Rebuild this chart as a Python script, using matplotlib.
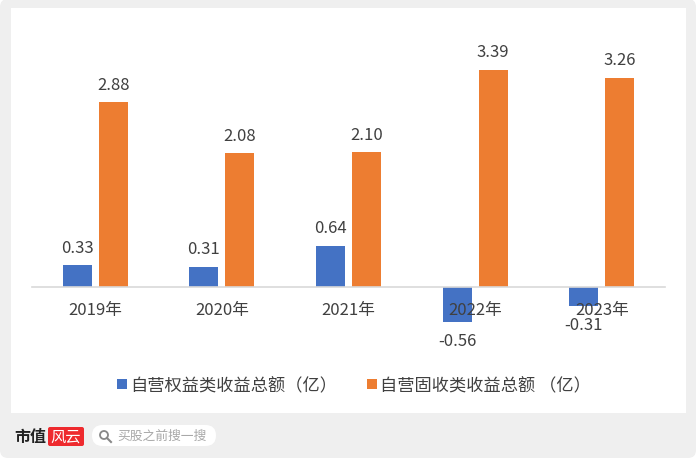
import matplotlib
matplotlib.use('Agg')
import matplotlib.pyplot as plt
import numpy as np
from matplotlib.patches import FancyBboxPatch, Rectangle, Circle

plt.rcParams['font.family'] = ['Noto Sans CJK SC', 'DejaVu Sans']

W, H = 696, 460

years = ['2019年', '2020年', '2021年', '2022年', '2023年']
equity = [0.33, 0.31, 0.64, -0.56, -0.31]
fixed = [2.88, 2.08, 2.10, 3.39, 3.26]
equity_name = '自营权益类收益总额（亿）'
fixed_name = '自营固收类收益总额 （亿）'

BLUE = '#4472c4'
ORANGE = '#ed7d31'
TEXT = '#404040'

fig = plt.figure(figsize=(W / 100, H / 100), dpi=100, facecolor='white')

# page background, white card and footer, in pixel coordinates
bg = fig.add_axes([0, 0, 1, 1], zorder=0)
bg.set_xlim(0, W)
bg.set_ylim(H, 0)
bg.axis('off')
bg.add_patch(FancyBboxPatch((0, 0), W, H - 1, boxstyle='round,pad=0,rounding_size=8',
                            fc='#efefef', ec='none'))
bg.add_patch(Rectangle((11, 9), 675, 405, fc='white', ec='none'))

# footer logo and search box
bg.text(14, 437, '市值', fontsize=11.5, fontweight='bold', color='#222222', va='center', ha='left')
bg.add_patch(FancyBboxPatch((48, 428), 36, 19, boxstyle='round,pad=0,rounding_size=2',
                            fc='#ee2a2e', ec='none'))
bg.text(66, 437, '风云', fontsize=11, color='white', style='italic', va='center', ha='center')
bg.add_patch(FancyBboxPatch((92, 426), 124, 21, boxstyle='round,pad=0,rounding_size=10.5',
                            fc='white', ec='none'))
bg.add_patch(Circle((104, 436), 4, fc='none', ec='#888888', lw=1.3))
bg.plot([107, 111], [439, 443], color='#888888', lw=1.5)
bg.text(117, 436.5, '买股之前搜一搜', fontsize=9.2, color='#a8a8a8', va='center', ha='left')

# chart axes: 64 px per unit, zero line at y=287.5
zero_y = 287.5
top, bottom = 20, 360
ax = fig.add_axes([32 / W, 1 - bottom / H, 633 / W, (bottom - top) / H], zorder=1)
ax.patch.set_alpha(0)
ax.set_xlim(-0.5, 4.5)
ax.set_ylim((zero_y - bottom) / 64, (zero_y - top) / 64)

x = np.arange(len(years))
bar_w = 0.229
off = 0.142
b1 = ax.bar(x - off, equity, bar_w, color=BLUE, label=equity_name)
b2 = ax.bar(x + off, fixed, bar_w, color=ORANGE, label=fixed_name)

for bars, vals in [(b1, equity), (b2, fixed)]:
    for r, v in zip(bars, vals):
        sign = 1 if v >= 0 else -1
        ax.annotate(f'{v:.2f}', (r.get_x() + r.get_width() / 2, v),
                    xytext=(0, sign * 13), textcoords='offset points',
                    ha='center', va='center', fontsize=12, color=TEXT)

ax.set_xticks(x, years)
ax.tick_params(axis='x', length=0, pad=10.5, labelsize=12, labelcolor=TEXT)
ax.set_yticks([])
for s in ['top', 'left', 'right']:
    ax.spines[s].set_visible(False)
ax.spines['bottom'].set_position(('data', 0))
ax.spines['bottom'].set_color('#d9d9d9')
ax.spines['bottom'].set_linewidth(1.2)

# legend sits below the axis, squares like the original
leg = fig.legend(handles=[b1, b2], loc='center', bbox_to_anchor=(354 / W, 1 - 386 / H), ncol=2,
                 frameon=False, fontsize=12.4, handlelength=0.55, handleheight=0.55,
                 handletextpad=0.2, columnspacing=1.75, labelcolor=TEXT)

fig.savefig('out.png', dpi=100, facecolor='white')
